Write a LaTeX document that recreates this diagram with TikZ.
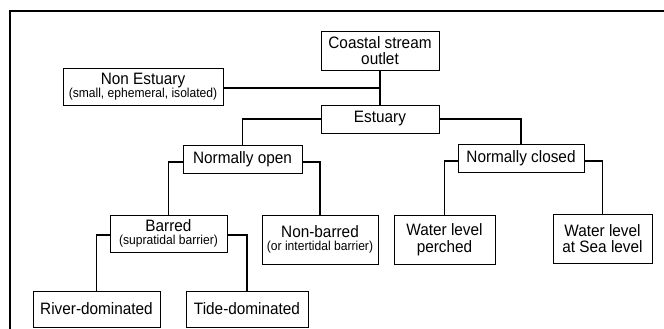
\documentclass[tikz,border=0pt]{standalone}
\usepackage{fontspec}
\setmainfont[FakeStretch=0.93]{Liberation Sans}
\usetikzlibrary{shadows}
\tikzset{
  box/.style={draw, fill=white, line width=0.9pt, inner sep=0pt, align=center,
    font=\fontsize{16.5}{16.5}\selectfont,
    drop shadow={shadow xshift=1.4pt, shadow yshift=-1.4pt, fill=black, opacity=1}},
  conn/.style={line width=1.1pt}
}
\newcommand{\smalltxt}[1]{{\fontsize{13}{13}\selectfont #1}}
\begin{document}
\begin{tikzpicture}[x=1pt,y=-1pt]
\useasboundingbox (0,0) rectangle (664,329);
% frame
\draw[line width=1.8pt] (10,340) -- (10,11) -- (680,11);
% nodes
\node[box, minimum width=118, minimum height=39] (coastal) at (380,50.5) {Coastal stream\\outlet};
\node[box, minimum width=160, minimum height=37] (nonest) at (143,86.5) {Non Estuary\\[-3pt]\smalltxt{(small, ephemeral, isolated)}};
\node[box, minimum width=118, minimum height=28] (estuary) at (380,119) {Estuary};
\node[box, minimum width=119, minimum height=28] (nopen) at (242.5,159) {Normally open};
\node[box, minimum width=126, minimum height=28] (nclosed) at (521,158) {Normally closed};
\node[box, minimum width=117, minimum height=37] (barred) at (168.5,233.5) {Barred\\[-3pt]\smalltxt{(supratidal barrier)}};
\node[box, minimum width=116, minimum height=49] (nonbarred) at (320,239.5) {Non-barred\\[-3pt]\smalltxt{(or intertidal barrier)}};
\node[box, minimum width=101, minimum height=49] (perched) at (444.5,239.5) {Water level\\perched};
\node[box, minimum width=99, minimum height=49] (sealevel) at (602.5,238.5) {Water level\\at Sea level};
\node[box, minimum width=127, minimum height=36] (river) at (96.5,309) {River-dominated};
\node[box, minimum width=122, minimum height=36] (tide) at (247,309) {Tide-dominated};
% connector start points
\coordinate (neE) at ([yshift=-1.5pt]nonest.east);
\coordinate (noW) at ([yshift=-3pt]nopen.west);
\coordinate (noE) at ([yshift=-3pt]nopen.east);
\coordinate (ncW) at ([yshift=-3pt]nclosed.west);
\coordinate (ncE) at ([yshift=-3pt]nclosed.east);
\coordinate (bW) at ([yshift=-1.5pt]barred.west);
\coordinate (bE) at ([yshift=-1.5pt]barred.east);
% connectors
\draw[conn] (coastal.south) -- (estuary.north);
\draw[conn] (neE) -- (coastal.south |- neE);
\draw[conn] (estuary.west) -| (nopen.north);
\draw[conn] (estuary.east) -| (nclosed.north);
\draw[conn] (noW) -| (barred.north);
\draw[conn] (noE) -| (nonbarred.north);
\draw[conn] (ncW) -| (perched.north);
\draw[conn] (ncE) -| (sealevel.north);
\draw[conn] (bW) -| (river.north);
\draw[conn] (bE) -| (tide.north);
\end{tikzpicture}
\end{document}
